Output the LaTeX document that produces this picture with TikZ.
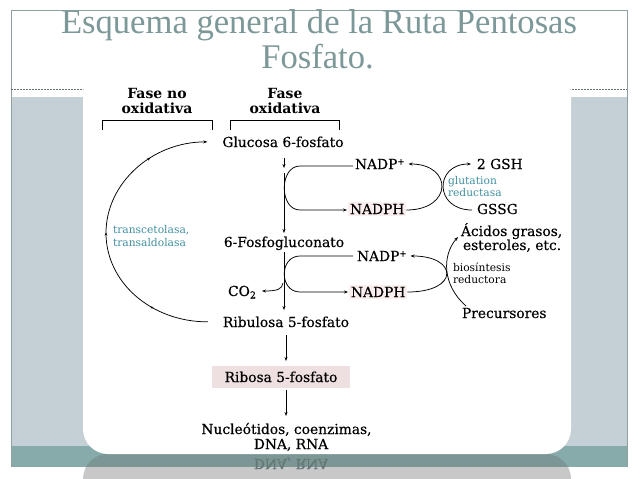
\documentclass[tikz,border=0pt]{standalone}
\usepackage{fontspec}
\setmainfont{DejaVu Serif}
\newfontfamily\lblfont{DejaVu Serif}[FakeBold=0.35]
\newfontfamily\titlefont{Liberation Serif}
\usetikzlibrary{arrows.meta,calc,decorations.markings}
\definecolor{frameline}{RGB}{140,160,162}
\definecolor{bandgray}{RGB}{197,208,214}
\definecolor{bandteal}{RGB}{135,170,170}
\definecolor{reflteal}{RGB}{124,150,150}
\definecolor{reflgray}{RGB}{200,200,200}
\definecolor{titlecol}{RGB}{125,152,152}
\definecolor{enzteal}{RGB}{64,144,160}
\definecolor{hlpink}{RGB}{250,238,238}
\definecolor{boxpink}{RGB}{238,224,224}
\begin{document}
\begin{tikzpicture}[x=1pt,y=-1pt,
  lbl/.style={inner sep=0pt, outer sep=0pt, font=\lblfont\fontsize{13.8}{15}\selectfont, anchor=base},
  lblw/.style={lbl, anchor=base west},
  fase/.style={lbl, font=\fontsize{14}{16}\selectfont\bfseries},
  enz/.style={inner sep=0pt, outer sep=0pt, anchor=base west, font=\fontsize{10.7}{12}\selectfont, text=enzteal},
  smalltxt/.style={inner sep=0pt, outer sep=0pt, anchor=base west, font=\fontsize{10.7}{12}\selectfont},
  arr/.style={-{Stealth[length=4pt,width=3pt]}},
  midarr/.style={postaction={decorate}, decoration={markings,
     mark=at position 0.2 with {\arrow{Stealth[length=3pt,width=2.5pt]}},
     mark=at position 0.5 with {\arrow{Stealth[length=3pt,width=2.5pt]}},
     mark=at position 0.8 with {\arrow{Stealth[length=3pt,width=2.5pt]}}}},
  line width=0.75pt]
\useasboundingbox (0,0) rectangle (638,479);
% slide background
\fill[white] (0,0) rectangle (638,479);
\fill[bandgray] (11,97) rectangle (627,446);
\fill[bandteal] (11,446) rectangle (627,467);
\draw[frameline, line width=0.8pt] (11,467) -- (11,10) -- (627,10) -- (627,467);
\draw[frameline!70!black, dash pattern=on 2pt off 1pt, line width=0.5pt] (11,89) -- (627,89);
\begin{scope}
  \clip (83,454) rectangle (571,467);
  \fill[reflteal, rounded corners=25pt] (83,454) rectangle (571,560);
\end{scope}
\begin{scope}
  \clip (83,467) rectangle (571,479);
  \fill[reflgray, rounded corners=25pt] (83,454) rectangle (571,560);
\end{scope}
\fill[white, rounded corners=25pt] (83,68) rectangle (571,454);
% reflection of the last line
\begin{scope}[shift={(291,459)}, yscale=-1]
  \node[lbl, transform shape, text={rgb,255:red,100;green,118;blue,118}] (rf1) at (0,0) {DNA, RNA};
\end{scope}
% title
\node[anchor=base, inner sep=0pt, text=titlecol, font=\titlefont\fontsize{34.6}{36}\selectfont] (t1) at (319,33) {Esquema general de la Ruta Pentosas};
\node[anchor=base, inner sep=0pt, text=titlecol, font=\titlefont\fontsize{34.6}{36}\selectfont] (t2) at (317.5,68) {Fosfato.};
% phase headers
\node[fase] (fnoa) at (157,98) {Fase no};
\node[fase] (fnob) at (157,113) {oxidativa};
\node[fase] (foxa) at (285,98) {Fase};
\node[fase] (foxb) at (285,113) {oxidativa};
\draw[line width=1pt] (102,130) -- (102,120) -- (212,120) -- (212,130);
\draw[line width=1pt] (230,130) -- (230,120) -- (339,120) -- (339,130);
% main nodes
\node[lbl] (glu) at (283,147) {Glucosa 6-fosfato};
\node[lbl] (pgl) at (284,247) {6-Fosfogluconato};
\node[lbl] (ribu) at (286,327) {Ribulosa 5-fosfato};
\node[lbl, fill=boxpink, inner xsep=13pt, inner ysep=5.5pt] (ribo) at (281,382) {Ribosa 5-fosfato};
\node[lbl] (nuc1) at (286.5,434) {Nucleótidos, coenzimas,};
\node[lbl] (nuc2) at (291,449) {DNA, RNA};
\node[lbl] (co2) at (242,296) {CO\raisebox{-2.5pt}{\fontsize{9.5}{9.5}\selectfont 2}};
\node[lblw] (nadp1) at (355,169) {NADP\raisebox{4.5pt}{\fontsize{8.5}{8.5}\selectfont +}};
\node[lblw, fill=hlpink, inner sep=2pt] (nadph1) at (348,214) {NADPH};
\node[lblw] (nadp2) at (357,261) {NADP\raisebox{4.5pt}{\fontsize{8.5}{8.5}\selectfont +}};
\node[lblw, fill=hlpink, inner sep=2pt] (nadph2) at (349,297) {NADPH};
\node[lblw] (gsh) at (477,169) {2 GSH};
\node[lblw] (gssg) at (477,214) {GSSG};
\node[enz] (glut1) at (448,184) {glutation};
\node[enz] (glut2) at (448,196) {reductasa};
\node[lblw] (acid1) at (461,236) {Ácidos grasos,};
\node[lblw] (acid2) at (463,250) {esteroles, etc.};
\node[smalltxt] (bio1) at (453,271) {biosíntesis};
\node[smalltxt] (bio2) at (453,283) {reductora};
\node[lblw] (prec) at (462,318) {Precursores};
\node[enz] (tr1) at (113,233) {transcetolasa,};
\node[enz] (tr2) at (113,246) {transaldolasa};
% connectors
\draw[arr] ($(glu.base)+(1,11)$) -- ($(glu.base)+(1,21)$);
\draw[arr] ($(glu.base)+(1,26)$) -- ($(pgl.base)+(0,-14)$);
\draw[arr] ($(nadp1.base west)+(-2,-3)$) -- (300,166) .. controls (279,166) and (279,210) .. (300,210) -- ($(nadph1.base west)+(-1,-4)$);
\draw[arr] ($(pgl.base)+(0,5)$) -- ($(ribu.base)+(-2,-17)$);
\draw[arr] ($(nadp2.base west)+(-4,-5)$) -- (300,256) .. controls (279,256) and (279,292) .. (300,292) -- ($(nadph2.base west)+(-1,-5)$);
\draw[arr] ($(pgl.base)+(-1,36)$) .. controls (282,289) and (278,291) .. ($(co2.base east)+(6,-5)$);
\draw[arr] ($(nadph1.base east)+(0,-4)$) .. controls (453,210) and (453,164) .. ($(nadp1.base east)+(4,-5)$);
\draw[arr] ($(gssg.base west)+(-5,-4)$) .. controls (434,210) and (434,164) .. ($(gsh.base west)+(-6,-5)$);
\draw[arr] ($(nadph2.base east)+(0,-5)$) .. controls (460,292) and (458,256) .. ($(nadp2.base east)+(4,-5)$);
\draw[arr] ($(prec.base west)+(4,-12)$) .. controls (442,285) and (442,255) .. ($(acid1.base west)+(-3,1)$);
\path ($(ribu.base)+(0,8)$) coordinate (r1);
\draw[arr, shorten >=5pt] (r1) -- (r1 |- ribo.north);
\path (r1 |- ribo.south) coordinate (r2);
\draw[arr, shorten <=2pt, shorten >=7pt] (r2) -- (r2 |- nuc1.north);
\draw[arr, midarr] ($(ribu.west)+(-15,0)$) .. controls (151.7,322) and (106,282.7) .. (106,233) .. controls (106,183.3) and (151.7,142) .. ($(glu.west)+(-15,0)$);
\end{tikzpicture}
\end{document}
